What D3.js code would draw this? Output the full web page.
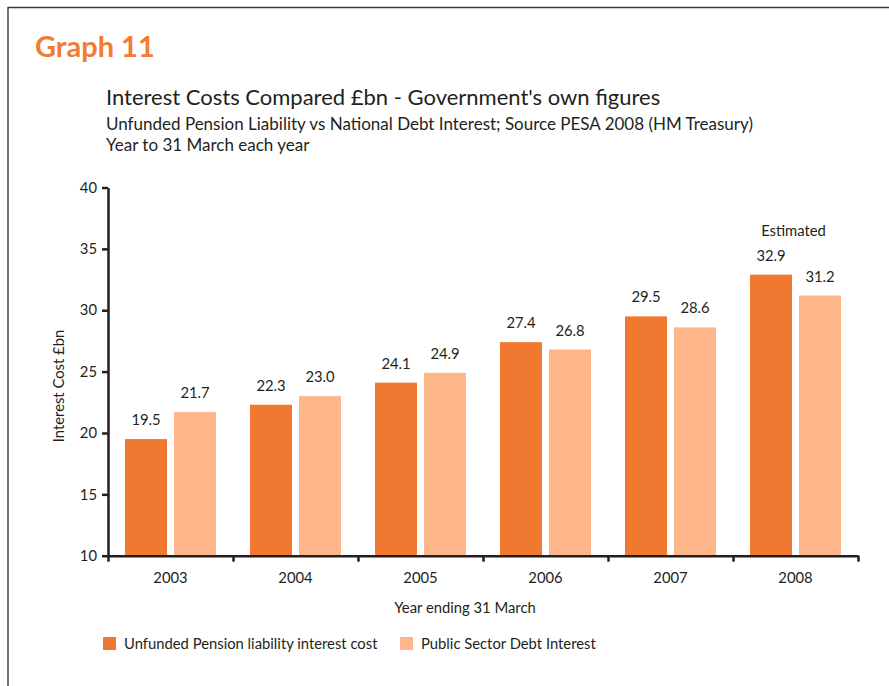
<!DOCTYPE html>
<html>
<head>
<meta charset="utf-8">
<script src="https://cdn.jsdelivr.net/npm/d3@7"></script>
<style>
  html, body { margin: 0; padding: 0; background: #fff; }
  svg { display: block; font-family: Lato, "Open Sans", sans-serif; }
</style>
</head>
<body>
<svg id="chart" width="889" height="686"></svg>
<script>
// Interest costs, £bn, year to 31 March
const years = ["2003", "2004", "2005", "2006", "2007", "2008"];
const pensionInterest = [19.5, 22.3, 24.1, 27.4, 29.5, 32.9];
const debtInterest = [21.7, 23.0, 24.9, 26.8, 28.6, 31.2];
const seriesNames = ["Unfunded Pension liability interest cost", "Public Sector Debt Interest"];
const yTicks = [10, 15, 20, 25, 30, 35, 40];
const estimatedYear = "2008";

const colors = ["#F07830", "#FDB58A"];
const textColor = "#231F20";
const small = 14.8;

const svg = d3.select("#chart");

// Page frame (top and left edges)
svg.append("path")
  .attr("d", "M8,686 V7.5 H889")
  .attr("fill", "none")
  .attr("stroke", "#3a3a3a")
  .attr("stroke-width", 1.4);

svg.append("text")
  .attr("x", 35).attr("y", 57)
  .attr("fill", "#F07D32")
  .attr("font-size", 29).attr("font-weight", 700)
  .text("Graph 11");

const titles = [
  { t: "Interest Costs Compared £bn - Government's own figures", y: 105, s: 22 },
  { t: "Unfunded Pension Liability vs National Debt Interest; Source PESA 2008 (HM Treasury)", y: 130, s: 17 },
  { t: "Year to 31 March each year", y: 151, s: 17 }
];
titles.forEach(d => {
  svg.append("text").attr("x", 106).attr("y", d.y)
    .attr("fill", textColor).attr("font-size", d.s).text(d.t);
});

const rows = years.map((y, i) => ({ year: y, values: [pensionInterest[i], debtInterest[i]] }));

const x = d3.scaleBand().domain(years).range([108, 858])
  .paddingInner(0.272).paddingOuter(0.136);
const x1 = d3.scaleBand().domain([0, 1]).range([0, x.bandwidth()]).paddingInner(1 / 7);
const y = d3.scaleLinear().domain([10, 40]).range([555.7, 187.5]);
const boundary = d3.scaleLinear().domain([0, years.length]).range([108, 858]);

// Bars
const groups = svg.append("g").selectAll("g").data(rows).join("g")
  .attr("transform", d => `translate(${x(d.year)},0)`);

groups.selectAll("rect").data(d => d.values).join("rect")
  .attr("x", (v, i) => x1(i))
  .attr("width", x1.bandwidth())
  .attr("y", v => y(v))
  .attr("height", v => y(10) - y(v))
  .attr("fill", (v, i) => colors[i]);

groups.selectAll("text.val").data(d => d.values).join("text")
  .attr("class", "val")
  .attr("x", (v, i) => x1(i) + x1.bandwidth() / 2)
  .attr("y", v => y(v) - 14)
  .attr("text-anchor", "middle")
  .attr("fill", textColor).attr("font-size", small)
  .text(v => v.toFixed(1));

groups.filter(d => d.year === estimatedYear).append("text")
  .attr("x", x.bandwidth() / 2 - 2)
  .attr("y", d => y(d3.max(d.values)) - 39)
  .attr("text-anchor", "middle")
  .attr("fill", textColor).attr("font-size", small)
  .text("Estimated");

// Y axis
const yAxis = svg.append("g").attr("transform", "translate(108,0)")
  .call(d3.axisLeft(y).tickValues(yTicks).tickSize(6).tickSizeOuter(0).tickPadding(5));
yAxis.select(".domain").attr("stroke", "#231F20").attr("stroke-width", 2.5);
yAxis.selectAll(".tick line").attr("stroke", "#231F20").attr("stroke-width", 2.5);
yAxis.selectAll(".tick text").attr("fill", textColor).attr("font-size", small)
  .attr("font-family", "Lato, sans-serif");

// X axis: ticks on category boundaries, labels centred under each category
const xAxis = svg.append("g").attr("transform", `translate(0,${y(10)})`)
  .call(d3.axisBottom(boundary).ticks(years.length).tickSize(6).tickSizeOuter(0).tickFormat(""));
xAxis.select(".domain").attr("stroke", "#231F20").attr("stroke-width", 2.5);
xAxis.selectAll(".tick line").attr("stroke", "#231F20").attr("stroke-width", 2.5);

svg.append("g").selectAll("text").data(years).join("text")
  .attr("x", d => x(d) + x.bandwidth() / 2)
  .attr("y", 583)
  .attr("text-anchor", "middle")
  .attr("fill", textColor).attr("font-size", small)
  .text(d => d);

svg.append("text")
  .attr("x", 465).attr("y", 613)
  .attr("text-anchor", "middle")
  .attr("fill", textColor).attr("font-size", small)
  .text("Year ending 31 March");

svg.append("text")
  .attr("transform", "translate(64,386) rotate(-90)")
  .attr("text-anchor", "middle")
  .attr("fill", textColor).attr("font-size", small)
  .text("Interest Cost £bn");

// Legend
const legendX = [103, 400];
const legend = svg.append("g").selectAll("g").data(seriesNames).join("g")
  .attr("transform", (d, i) => `translate(${legendX[i]},637)`);
legend.append("rect").attr("width", 13).attr("height", 13)
  .attr("fill", (d, i) => colors[i]);
legend.append("text").attr("x", 21).attr("y", 11.5)
  .attr("fill", textColor).attr("font-size", small)
  .text(d => d);
</script>
</body>
</html>
